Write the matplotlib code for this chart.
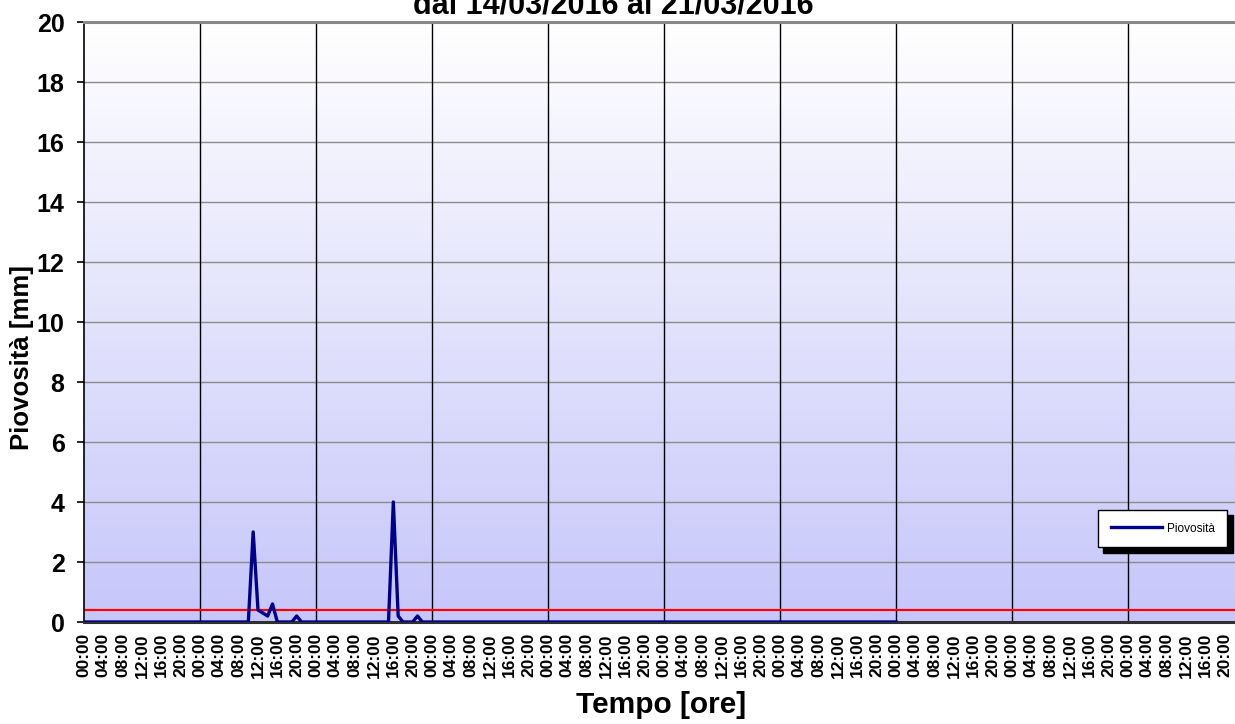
import numpy as np
import matplotlib
matplotlib.use("Agg")
import matplotlib.pyplot as plt
from matplotlib.lines import Line2D

# ---- data ----
title_text = "dal 14/03/2016 al 21/03/2016"
ylabel_text = "Piovosità [mm]"
xlabel_text = "Tempo [ore]"
series_name = "Piovosità"

n_hours = 169                      # hourly readings 14/03 00:00 -> 21/03 00:00
rain_hours = [35, 36, 37, 38, 39, 44, 64, 65, 69]
rain_values = [3.0, 0.4, 0.3, 0.2, 0.6, 0.2, 4.0, 0.2, 0.2]
threshold = 0.4

n_days_axis = 10
tick_hours = list(range(0, 24 * n_days_axis, 4))
tick_labels = ["%02d:00" % (h % 24) for h in tick_hours]
day_hours = list(range(0, 24 * n_days_axis + 1, 24))
y_ticks = list(range(0, 21, 2))

hours = np.arange(n_hours)
rain = np.zeros(n_hours)
rain[rain_hours] = rain_values

# ---- figure ----
W, H = 1235, 724
fig = plt.figure(figsize=(W / 100, H / 100), dpi=100)
fig.patch.set_facecolor("white")
left_px, right_px, top_px, bot_px = 84, 1244, 22, 622
ax = fig.add_axes([left_px / W, 1 - bot_px / H, (right_px - left_px) / W, (bot_px - top_px) / H])

xmax = 24 * n_days_axis
ax.set_xlim(0, xmax)
ax.set_ylim(0, 20)

# gradient background
grad = np.linspace(0, 1, 256).reshape(-1, 1)
top_c = np.array([1.0, 1.0, 1.0])
bot_c = np.array([198, 198, 250]) / 255.0
img = top_c[None, None, :] * (1 - grad[:, :, None]) + bot_c[None, None, :] * grad[:, :, None]
ax.imshow(img, extent=[0, xmax, 0, 20], aspect="auto", origin="upper", zorder=0)

# grid
for yv in y_ticks[1:]:
    ax.axhline(yv, color="#8c8c8c", lw=1.0, zorder=1)
for d in day_hours[1:-1]:
    ax.axvline(d, color="black", lw=1.0, zorder=1)

# threshold + data
ax.axhline(threshold, color="#ff0000", lw=1.6, zorder=2)
ax.plot(hours, rain, color="#00008b", lw=2.4, zorder=3)

# spines
ax.spines["right"].set_visible(False)
ax.spines["top"].set_color("#8a8a8a")
ax.spines["top"].set_linewidth(2.2)
ax.spines["left"].set_color("black")
ax.spines["left"].set_linewidth(1.2)
ax.spines["bottom"].set_color("#303030")
ax.spines["bottom"].set_linewidth(2.2)

# ticks
ax.set_xticks(tick_hours)
ax.set_xticklabels(tick_labels, rotation=90, fontfamily="Liberation Sans",
                   fontweight="bold", fontsize=12.5)
ax.tick_params(axis="x", which="major", length=0, pad=8)
ax.set_xticks(day_hours, minor=True)
ax.tick_params(axis="x", which="minor", length=6, width=2, color="black", direction="out")

ax.set_yticks(y_ticks)
ax.set_yticklabels([str(v) for v in y_ticks], fontfamily="Liberation Sans",
                   fontweight="bold", fontsize=18)
ax.tick_params(axis="y", length=5, width=1.2, pad=9, direction="out")

# texts (title is partially cut at the top edge, as in the reference)
fig.text(613.5 / W, 1 - 13 / H, title_text, ha="center", va="baseline",
         fontfamily="Liberation Sans", fontweight="bold", fontsize=22)
fig.text(22 / W, 1 - 358 / H, ylabel_text, ha="center", va="center", rotation=90,
         fontfamily="Liberation Sans", fontweight="bold", fontsize=18.5)
fig.text(661 / W, 1 - 705 / H, xlabel_text, ha="center", va="center",
         fontfamily="Liberation Sans", fontweight="bold", fontsize=21.5)

# legend
handle = Line2D([], [], color="#00008b", lw=2.4)
leg = ax.legend([handle], [series_name], loc="center",
                bbox_to_anchor=(1162.5 / W, 1 - 528.5 / H), bbox_transform=fig.transFigure,
                prop={"family": "Liberation Sans", "size": 8.5},
                handlelength=4.4, handletextpad=0.35, borderpad=1.1,
                fancybox=False, framealpha=1,
                shadow={"color": "black", "alpha": 1.0, "ox": 4, "oy": -4})
leg.get_frame().set_edgecolor("black")
leg.get_frame().set_linewidth(1.0)
leg.set_zorder(5)

fig.savefig("out.png", dpi=100)
